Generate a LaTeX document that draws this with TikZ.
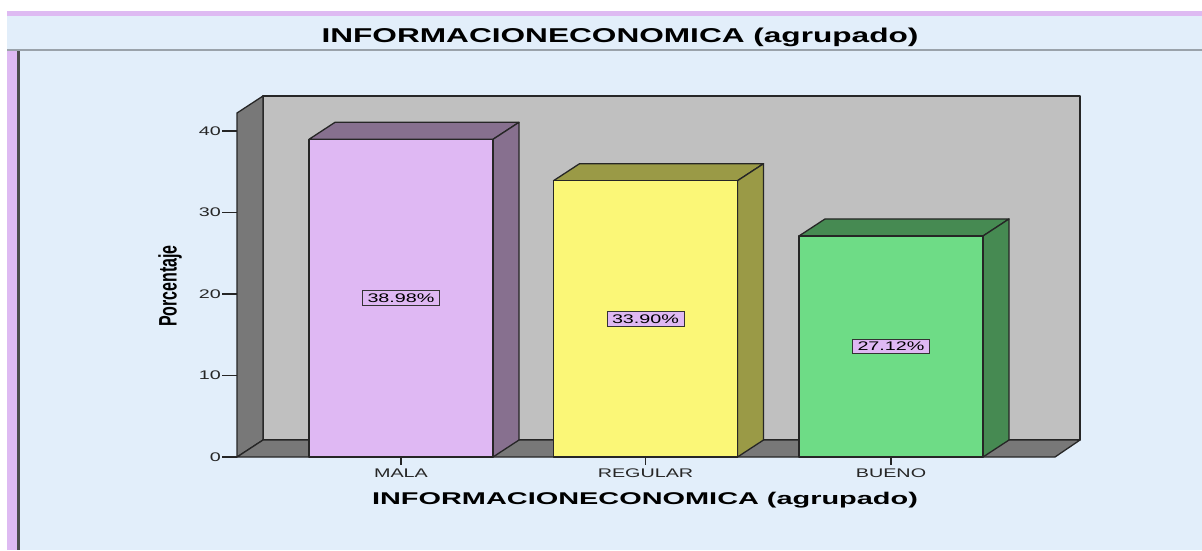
\documentclass[tikz,border=0pt]{standalone}
\usepackage{fontspec}
\setmainfont{Liberation Sans}
\usetikzlibrary{calc}
\definecolor{panelblue}{HTML}{E2EEFA}
\definecolor{framepurple}{HTML}{DEBAF2}
\definecolor{frameline}{HTML}{9AA2AA}
\definecolor{wallgray}{HTML}{C0C0C0}
\definecolor{floorgray}{HTML}{787878}
\definecolor{malafront}{HTML}{DFB8F3}
\definecolor{malaside}{HTML}{87708F}
\definecolor{regfront}{HTML}{FBF777}
\definecolor{regside}{HTML}{9A9A46}
\definecolor{buenofront}{HTML}{6EDC86}
\definecolor{buenoside}{HTML}{468A52}
\newcommand{\wide}[2][1.58]{\scalebox{#1}[1]{#2}}
\tikzset{
  edge3d/.style={draw=black!85, line width=1.3pt, line join=round},
  tickline/.style={draw=black!85, line width=1.2pt},
  ticklabel/.style={font=\fontsize{12.5}{12.5}\selectfont, text=black!85, inner sep=1pt},
  catlabel/.style={font=\fontsize{12.5}{12.5}\selectfont, text=black!85, inner sep=0pt, anchor=base},
  pctbox/.style={draw=black!80, fill=malafront, line width=1pt, inner xsep=5pt, inner ysep=3pt,
    font=\fontsize{12.5}{12.5}\selectfont},
  titletext/.style={font=\bfseries\fontsize{20}{20}\selectfont, inner sep=0pt, anchor=base},
}

\begin{document}
\begin{tikzpicture}[x=1pt,y=-1pt]
  \useasboundingbox (0,0) rectangle (1202,550);
  % window frame
  \fill[white] (0,0) rectangle (1202,550);
  \fill[framepurple] (7,11) rectangle (1202,16);
  \fill[panelblue] (7,16) rectangle (1202,550);
  \fill[framepurple] (7,50) rectangle (17,550);
  \fill[black!70] (17,51) rectangle (20,550);
  \draw[frameline, line width=2pt] (7,50) -- (1202,50);
  \node[titletext] (title) at (620,42) {\wide{INFORMACIONECONOMICA (agrupado)}};

  % back wall, side wall and floor
  \path[fill=wallgray, edge3d] (263,96) rectangle (1080,440);
  \path[fill=floorgray, edge3d] (237,457) -- (237,113) -- (263,96) -- (263,440) -- cycle;
  \path[fill=floorgray, edge3d] (237,457) -- (263,440) -- (1080,440) -- (1055,457) -- cycle;

  % value axis
  \foreach \v in {0,10,...,40} {
    \pgfmathsetmacro\yy{457-8.15*\v}
    \node[ticklabel, anchor=east] (ytick\v) at (222,\yy) {\wide{\v}};
    \draw[tickline] (ytick\v.east) -- ++(15,0);
  }
  \node[rotate=90, font=\bfseries\fontsize{16}{16}\selectfont, inner sep=0pt] (ytitle) at (170,286)
    {\scalebox{1}[1.58]{Porcentaje}};

  % bars
  \foreach \name/\c/\v/\lab/\front/\side in {mala/401/38.98/MALA/malafront/malaside,
      regular/645.5/33.90/REGULAR/regfront/regside, bueno/891/27.12/BUENO/buenofront/buenoside} {
    \pgfmathsetmacro\yt{457-8.15*\v}
    \pgfmathsetmacro\xl{\c-92}
    \pgfmathsetmacro\xr{\c+92}
    \path[fill=\side, edge3d] (\xl,\yt) -- (\xl+26,\yt-17) -- (\xr+26,\yt-17) -- (\xr,\yt) -- cycle;
    \path[fill=\side, edge3d] (\xr,457) -- (\xr+26,440) -- (\xr+26,\yt-17) -- (\xr,\yt) -- cycle;
    \path[fill=\front, edge3d] (\xl,\yt) rectangle (\xr,457);
    \node[pctbox] (pct-\name) at (\c,{(457+\yt)/2}) {\wide{\v\%}};
    \node[catlabel] (cat-\name) at (\c,477) {\wide{\lab}};
    \draw[tickline] (\c,457) -- (\c,465);
  }

  \node[titletext, font=\bfseries\fontsize{17}{17}\selectfont] (xtitle) at (645,504)
    {\wide[1.7]{INFORMACIONECONOMICA (agrupado)}};
\end{tikzpicture}
\end{document}
